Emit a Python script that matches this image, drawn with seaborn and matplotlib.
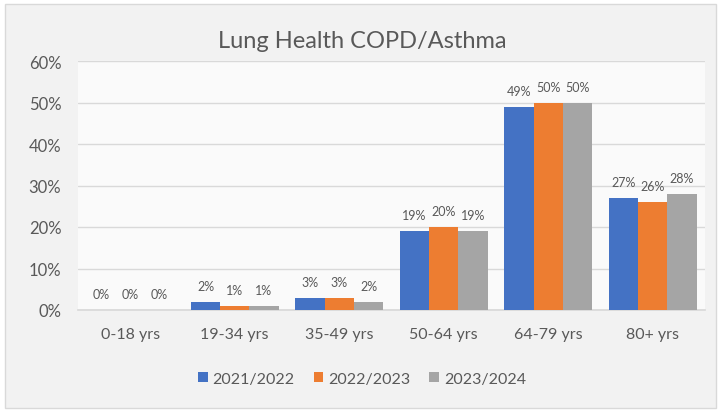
import pandas as pd
import seaborn as sns
from matplotlib import pyplot as plt
from matplotlib.patches import Rectangle
from matplotlib.ticker import PercentFormatter

age_groups = ["0-18 yrs", "19-34 yrs", "35-49 yrs", "50-64 yrs", "64-79 yrs", "80+ yrs"]
years = ["2021/2022", "2022/2023", "2023/2024"]
share_2021 = [0, 2, 3, 19, 49, 27]
share_2022 = [0, 1, 3, 20, 50, 26]
share_2023 = [0, 1, 2, 19, 50, 28]
y_ticks = [0, 10, 20, 30, 40, 50, 60]

COLORS = ["#4472C4", "#ED7D31", "#A5A5A5"]
TEXT = "#595959"


def main() -> None:
    data = pd.DataFrame(
        {
            "age": age_groups * 3,
            "year": [y for y in years for _ in age_groups],
            "share": share_2021 + share_2022 + share_2023,
        }
    )

    sns.set_theme(style="white")
    plt.rcParams["font.family"] = ["Lato", "DejaVu Sans"]

    fig = plt.figure(figsize=(7.24, 4.14), dpi=100, facecolor="white")
    fig.patches.append(
        Rectangle((5, 5), 711, 404, transform=None, facecolor="#F2F2F2",
                  edgecolor="#D9D9D9", linewidth=1, zorder=-10)
    )
    ax = fig.add_axes([78 / 724, 1 - 311 / 414, 627 / 724, 249 / 414])
    ax.set_facecolor("#FAFAFA")

    sns.barplot(data=data, x="age", y="share", hue="year", palette=COLORS,
                width=0.84, gap=0, saturation=1, linewidth=0, ax=ax, zorder=3)

    for container in ax.containers:
        ax.bar_label(container, fmt="%d%%", fontsize=9, color=TEXT, padding=7)

    ax.set_ylim(0, 60)
    ax.set_yticks(y_ticks)
    ax.yaxis.set_major_formatter(PercentFormatter(decimals=0))
    ax.grid(axis="y", color="#D9D9D9", linewidth=1, zorder=0)
    for side in ["top", "left", "right"]:
        ax.spines[side].set_visible(False)
    ax.spines["bottom"].set_color("#D9D9D9")
    ax.set_xlabel("")
    ax.set_ylabel("")
    ax.tick_params(axis="x", labelsize=11.5, colors=TEXT, pad=12, length=0)
    ax.tick_params(axis="y", labelsize=12, colors=TEXT, pad=12, length=0)

    fig.text(0.5, 1 - 42 / 414, "Lung Health COPD/Asthma", ha="center", va="center",
             fontsize=17, color=TEXT)

    handles, labels = ax.get_legend_handles_labels()
    ax.legend_.remove()
    fig.legend(handles, labels, loc="center", bbox_to_anchor=(0.5, 1 - 380 / 414),
               ncol=3, frameon=False, fontsize=11.5, labelcolor=TEXT,
               handlelength=0.6, handleheight=0.6, handletextpad=0.3, columnspacing=1.2)

    fig.savefig("out.png", dpi=100, facecolor=fig.get_facecolor())
    plt.close(fig)


if __name__ == "__main__":
    main()
